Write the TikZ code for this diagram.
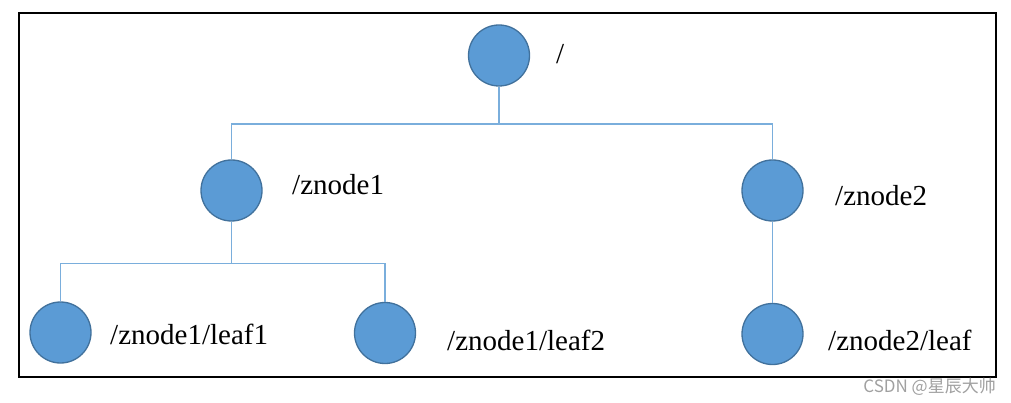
\documentclass[tikz,border=0pt]{standalone}
\usepackage{fontspec}
\setmainfont{Liberation Serif}
\newfontfamily\cjkfont{Noto Sans CJK SC}
\definecolor{nodefill}{HTML}{5B9BD5}
\definecolor{nodeedge}{HTML}{41719C}
\definecolor{linkcol}{HTML}{7AAEDC}
\definecolor{wmark}{HTML}{A0A0A0}
\begin{document}
\begin{tikzpicture}[x=1pt,y=-1pt,
  znode/.style={circle,fill=nodefill,draw=nodeedge,line width=1.3pt,minimum size=61pt,inner sep=0pt},
  lbl/.style={anchor=base west,inner sep=0pt,font=\fontsize{29}{33}\selectfont},
  link/.style={draw=linkcol,line width=1.2pt}]
\useasboundingbox (0,0) rectangle (1011,403);
\draw[line width=2pt] (19,13) rectangle (996,377);
% nodes
\node[znode] (root) at (499,55.5) {};
\node[znode] (z1) at (231.5,190.5) {};
\node[znode] (z2) at (772.5,190.5) {};
\node[znode] (l1) at (60.5,332.5) {};
\node[znode] (l2) at (385,333) {};
\node[znode] (zl) at (772.5,334) {};
% junctions
\coordinate (j0) at (499,124);
\coordinate (j1) at (231.5,263.5);
% connectors
\draw[link] (root.south) -- (j0);
\draw[link] (j0) -| (z1.north);
\draw[link] (j0) -| (z2.north);
\draw[link] (z1.south) -- (j1);
\draw[link] (j1) -| (l1.north);
\draw[link] (j1) -| (l2.north);
\draw[link] (z2.south) -- (zl.north);
% labels
\node[lbl] (t0) at (556,64) {/};
\node[lbl] (t1) at (292,195) {/znode1};
\node[lbl] (t2) at (835,205.5) {/znode2};
\node[lbl] (t3) at (110,344) {/znode1/leaf1};
\node[lbl] (t4) at (447,350) {/znode1/leaf2};
\node[lbl] (t5) at (828,350) {/znode2/leaf};
\node[anchor=base east,inner sep=0pt,text=wmark,font=\cjkfont\fontsize{17}{19}\selectfont] (wm) at (996,392) {CSDN @星辰大帅};
\end{tikzpicture}
\end{document}
